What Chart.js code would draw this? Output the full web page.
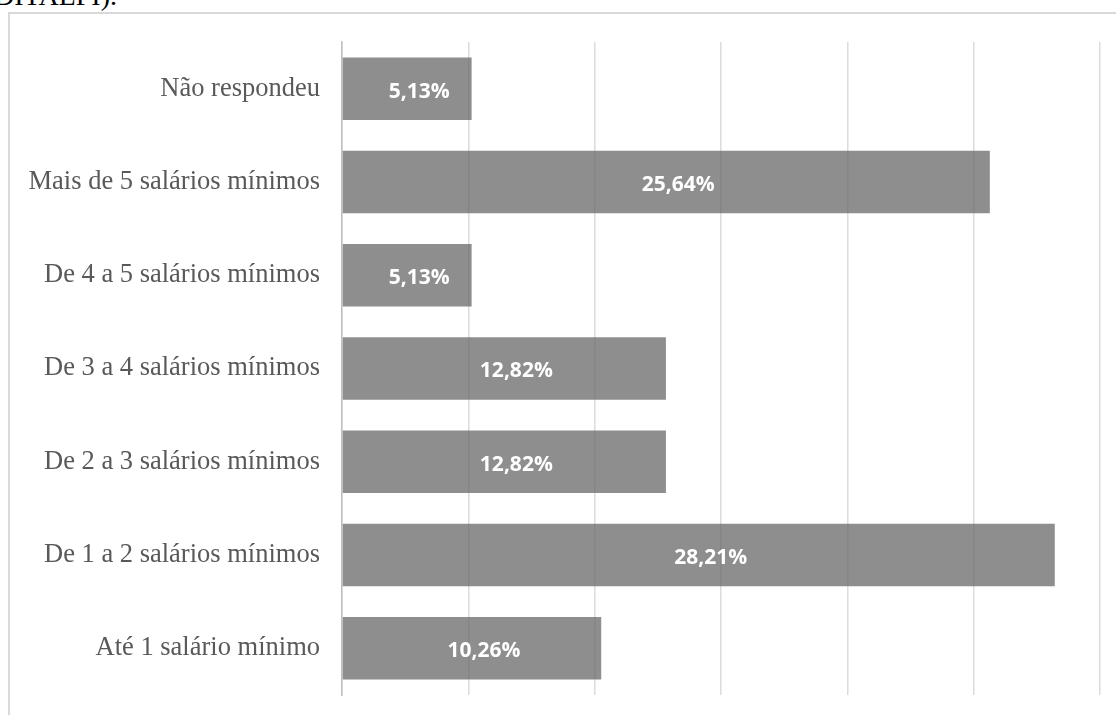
<!DOCTYPE html>
<html>
<head>
<meta charset="utf-8">
<script src="https://cdn.jsdelivr.net/npm/chart.js@4.4.1/dist/chart.umd.min.js"></script>
<style>
html,body{margin:0;padding:0;background:#fff;width:1116px;height:715px;overflow:hidden;}
#wrap{position:absolute;left:0;top:0;width:1116px;height:715px;}
#frame{position:absolute;left:8px;top:12px;width:1120px;height:720px;border-top:2px solid #d9d9d9;border-left:2px solid #d9d9d9;box-sizing:border-box;}
#cap{position:absolute;left:-6px;top:-20px;font-family:"Liberation Serif","Times New Roman",serif;font-size:28px;color:#000;white-space:nowrap;}
canvas{position:absolute;left:0;top:0;}
</style>
</head>
<body>
<div id="wrap">
<div id="cap">DITALPI).</div>
<div id="frame"></div>
<canvas id="c" width="1116" height="715"></canvas>
</div>
<script>
const categories = ["Não respondeu","Mais de 5 salários mínimos","De 4 a 5 salários mínimos","De 3 a 4 salários mínimos","De 2 a 3 salários mínimos","De 1 a 2 salários mínimos","Até 1 salário mínimo"];
const values = [5.13, 25.64, 5.13, 12.82, 12.82, 28.21, 10.26];
const valueLabels = ["5,13%","25,64%","5,13%","12,82%","12,82%","28,21%","10,26%"];
const xTicks = [0,5,10,15,20,25,30];

const labelPlugin = {
  id:'barLabels',
  afterDatasetsDraw(chart){
    const ctx = chart.ctx;
    const meta = chart.getDatasetMeta(0);
    ctx.save();
    ctx.font = 'bold 21px "Open Sans", "Liberation Sans", sans-serif';
    ctx.fillStyle = '#ffffff';
    ctx.textAlign = 'center';
    ctx.textBaseline = 'middle';
    meta.data.forEach((bar,i)=>{
      const cx = (bar.base + bar.x)/2 + 12;
      ctx.fillText(valueLabels[i], cx, bar.y + 3);
    });
    ctx.restore();
  }
};

new Chart(document.getElementById('c'), {
  type:'bar',
  data:{
    labels: categories,
    datasets:[{
      data: values,
      backgroundColor:'rgba(107,107,107,0.76)',
      borderWidth:0,
      barPercentage:0.67,
      categoryPercentage:1.0
    }]
  },
  options:{
    indexAxis:'y',
    responsive:false,
    animation:false,
    layout:{padding:{left:0,right:16,top:42,bottom:20}},
    plugins:{legend:{display:false},tooltip:{enabled:false}},
    scales:{
      x:{
        min:0,max:30,
        afterBuildTicks(scale){ scale.ticks = xTicks.map(v=>({value:v})); },
        afterFit(scale){ scale.height = 0; scale.paddingLeft = 0; scale.paddingRight = 0; scale.paddingTop = 0; scale.paddingBottom = 0; },
        ticks:{display:false},
        grid:{color:'#dcdcdc',lineWidth:1.5,drawTicks:false},
        border:{display:false}
      },
      y:{
        afterFit(scale){ scale.width = 342; scale.paddingTop = 0; scale.paddingBottom = 0; },
        ticks:{
          padding:22,
          color:'#595959',
          font:{family:'"Liberation Serif","Times New Roman",serif',size:26.5}
        },
        grid:{display:false,drawTicks:false},
        border:{display:true,color:'#bfbfbf',width:1.5}
      }
    }
  },
  plugins:[labelPlugin]
});
</script>
</body>
</html>
